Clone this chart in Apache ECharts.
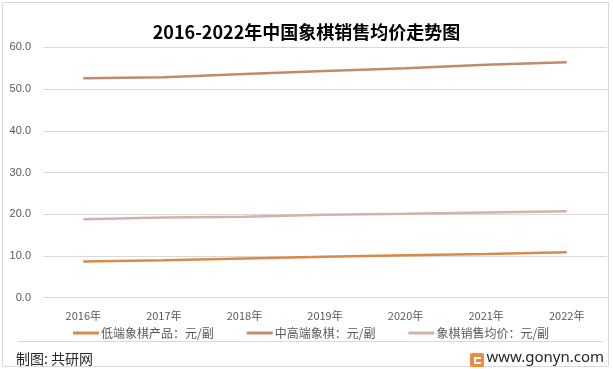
<!DOCTYPE html>
<html><head><meta charset="utf-8">
<script src="https://cdn.jsdelivr.net/npm/echarts@6/dist/echarts.min.js"></script>
<style>html,body{margin:0;padding:0;background:#fff}#c{width:613px;height:369px}</style>
</head><body><div id="c"></div>
<script>
const categories = ['2016年','2017年','2018年','2019年','2020年','2021年','2022年'];
const lowEnd = [8.7, 9.0, 9.4, 9.8, 10.2, 10.5, 10.9];
const midHigh = [52.6, 52.8, 53.6, 54.3, 55.0, 55.8, 56.4];
const avgPrice = [18.8, 19.2, 19.4, 19.9, 20.1, 20.4, 20.7];
const seriesNames = ['低端象棋产品：元/副','中高端象棋：元/副','象棋销售均价：元/副'];
const colors = ['#D98A4B','#C08B69','#D3B2A7'];
const titleText = '2016-2022年中国象棋销售均价走势图';
const sourceText = '制图: 共研网';
const siteText = 'www.gonyn.com';

const cjk = '"Noto Sans CJK SC", "Noto Sans", sans-serif';
const chart = echarts.init(document.getElementById('c'), null, {renderer:'canvas'});
const data = [lowEnd, midHigh, avgPrice];
chart.setOption({
  animation:false,
  backgroundColor:'#fff',
  color: colors,
  title:{text:titleText,left:'center',top:18,textStyle:{fontFamily:cjk,fontSize:18,fontWeight:'bold',color:'#000'}},
  grid:{left:43,right:6,top:47.3,bottom:71.3,containLabel:false},
  legend:{left:68,top:322,itemGap:33,itemWidth:26,itemHeight:3,icon:'rect',
    textStyle:{fontFamily:cjk,fontSize:12,color:'#595959',padding:[0,0,0,-3]},
    data:seriesNames},
  xAxis:{type:'category',data:categories,boundaryGap:true,
    axisLine:{show:false},axisTick:{show:false},
    axisLabel:{fontFamily:cjk,fontSize:11,color:'#595959',margin:13}},
  yAxis:{type:'value',min:0,max:60,interval:10,
    axisLabel:{fontFamily:'"Liberation Sans", sans-serif',fontSize:11,color:'#595959',margin:12,formatter:v=>v.toFixed(1)},
    splitLine:{lineStyle:{color:'#d9d9d9',width:1}},axisLine:{show:false},axisTick:{show:false}},
  series: seriesNames.map((n,i)=>({name:n,type:'line',data:data[i],symbol:'none',lineStyle:{width:2.5,color:colors[i]},itemStyle:{color:colors[i]}})),
  graphic:[
    {type:'rect',shape:{x:2.5,y:2.5,width:606,height:364},style:{fill:'none',stroke:'#d9d9d9',lineWidth:1},silent:true},
    {type:'line',shape:{x1:18,y1:341.5,x2:603,y2:341.5},style:{stroke:'#d9d9d9',lineWidth:1}},
    {type:'text',left:16,top:352,style:{text:sourceText,font:'14px "Noto Sans CJK SC"',fill:'#262626'}},
    {type:'rect',shape:{x:470,y:353,width:14,height:14,r:2},style:{fill:'#F08A3C'}},
    {type:'rect',shape:{x:474,y:357,width:7,height:2},style:{fill:'#fff'}},
    {type:'rect',shape:{x:474,y:357,width:2,height:7},style:{fill:'#fff'}},
    {type:'rect',shape:{x:474,y:362,width:7,height:2},style:{fill:'#fff'}},
    {type:'text',right:9,top:350,style:{text:siteText,font:'15px "Noto Sans"',fill:'#262626'}}
  ]
});
</script></body></html>
